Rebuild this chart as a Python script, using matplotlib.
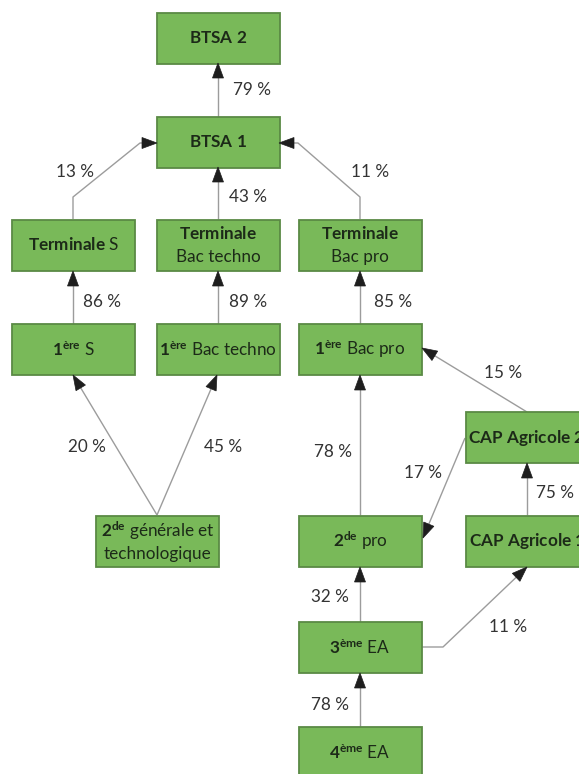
import numpy as np
import matplotlib
matplotlib.use("Agg")
import matplotlib.pyplot as plt
from matplotlib.patches import Rectangle, Polygon

plt.rcParams['font.family'] = ['Lato', 'DejaVu Sans']
plt.rcParams['mathtext.fontset'] = 'custom'
plt.rcParams['mathtext.rm'] = 'Lato'
plt.rcParams['mathtext.bf'] = 'Lato:bold'
plt.rcParams['mathtext.it'] = 'Lato:italic'

# ---- data: nodes (labels) ----
node_ids = ["btsa2", "btsa1", "termS", "termT", "termP", "prS", "prT", "prP",
            "cap2", "gt2", "pro2", "cap1", "ea3", "ea4"]
node_labels = {
    "btsa2": r"$\mathbf{BTSA\ 2}$",
    "btsa1": r"$\mathbf{BTSA\ 1}$",
    "termS": r"$\mathbf{Terminale}$ S",
    "termT": "$\\mathbf{Terminale}$\nBac techno",
    "termP": "$\\mathbf{Terminale}$\nBac pro",
    "prS": r"$\mathbf{1}^{\mathbf{ère}}$ S",
    "prT": r"$\mathbf{1}^{\mathbf{ère}}$ Bac techno",
    "prP": r"$\mathbf{1}^{\mathbf{ère}}$ Bac pro",
    "cap2": r"$\mathbf{CAP\ Agricole\ 2}$",
    "gt2": "$\\mathbf{2}^{\\mathbf{de}}$ générale et\ntechnologique",
    "pro2": r"$\mathbf{2}^{\mathbf{de}}$ pro",
    "cap1": r"$\mathbf{CAP\ Agricole\ 1}$",
    "ea3": r"$\mathbf{3}^{\mathbf{ème}}$ EA",
    "ea4": r"$\mathbf{4}^{\mathbf{ème}}$ EA",
}

# ---- data: flows (source, target, percent) ----
edge_src = ["btsa1", "termS", "termT", "termP", "prS", "prT", "prP", "gt2", "gt2",
            "cap2", "cap2", "pro2", "cap1", "ea3", "ea3", "ea4"]
edge_dst = ["btsa2", "btsa1", "btsa1", "btsa1", "termS", "termT", "termP", "prS", "prT",
            "prP", "pro2", "prP", "cap2", "pro2", "cap1", "ea3"]
edge_pct = [79, 13, 43, 11, 86, 89, 85, 20, 45, 15, 17, 78, 75, 32, 11, 78]

# ---- layout (pixel space) ----
W, H = 579, 774
BW, BH = 123, 51
node_pos = {
    "btsa2": (218, 38), "btsa1": (218, 142),
    "termS": (73.5, 245), "termT": (218, 245), "termP": (360, 245),
    "prS": (73.5, 349.5), "prT": (218, 349.5), "prP": (360, 349.5),
    "cap2": (527, 437.5),
    "gt2": (157.5, 541), "pro2": (360, 541), "cap1": (527, 541),
    "ea3": (360, 647.5), "ea4": (360, 752.5),
}
node_linespacing = {"termT": 1.55, "termP": 1.55, "gt2": 1.3}
edge_paths = [
    [(218, 117), (218, 63)],
    [(73, 219), (73, 197), (140, 143), (157, 143)],
    [(218, 219), (218, 167)],
    [(360, 219), (360, 197), (298, 143), (279, 143)],
    [(73, 324), (73, 271)],
    [(218, 324), (218, 271)],
    [(360, 324), (360, 271)],
    [(157, 515), (73, 375)],
    [(157, 515), (217, 375)],
    [(527, 412), (422, 348)],
    [(465, 438), (423, 538)],
    [(360, 515), (360, 375)],
    [(527, 515), (527, 463)],
    [(360, 622), (360, 567)],
    [(422, 647), (443, 647), (527, 567)],
    [(360, 727), (360, 673)],
]
label_pos = [(252, 90), (75, 172), (248, 197), (370, 172), (102, 302), (248, 302),
             (393, 302), (87, 447), (223, 447), (503, 373), (423, 473), (333, 452),
             (555, 493), (330, 597), (508, 627), (330, 705)]

fig = plt.figure(figsize=(W / 100, H / 100), dpi=100)
ax = fig.add_axes([0, 0, 1, 1])
ax.set_xlim(0, W)
ax.set_ylim(H, 0)
ax.axis('off')

BOX_FC = '#79b959'
BOX_EC = '#5a8a45'
TXT = '#1c2a18'
LINE = '#9c9c9c'
HEAD = '#1e1e1e'

for nid in node_ids:
    cx, cy = node_pos[nid]
    ax.add_patch(Rectangle((cx - BW / 2, cy - BH / 2), BW, BH, facecolor=BOX_FC,
                           edgecolor=BOX_EC, lw=1.3, zorder=2))
    ax.text(cx, cy, node_labels[nid], ha='center', va='center', fontsize=12.3,
            color=TXT, zorder=3, linespacing=node_linespacing.get(nid, 1.2))

HL, HW = 15, 5.5
for path, pct, lp in zip(edge_paths, edge_pct, label_pos):
    pts = np.array(path, dtype=float)
    tip = pts[-1]
    d = pts[-1] - pts[-2]
    d = d / np.hypot(*d)
    base = tip - d * HL
    line_pts = np.vstack([pts[:-1], base + d * 2])
    ax.plot(line_pts[:, 0], line_pts[:, 1], color=LINE, lw=1.0, zorder=1,
            solid_capstyle='butt')
    n = np.array([-d[1], d[0]])
    tri = np.array([tip, base + n * HW, base - n * HW])
    ax.add_patch(Polygon(tri, closed=True, facecolor=HEAD, edgecolor=HEAD, lw=0.5, zorder=4))
    ax.text(lp[0], lp[1], f"{pct} %", ha='center', va='center', fontsize=12.3,
            color='#333333', zorder=3)

fig.savefig('out.png', dpi=100, facecolor='white')
